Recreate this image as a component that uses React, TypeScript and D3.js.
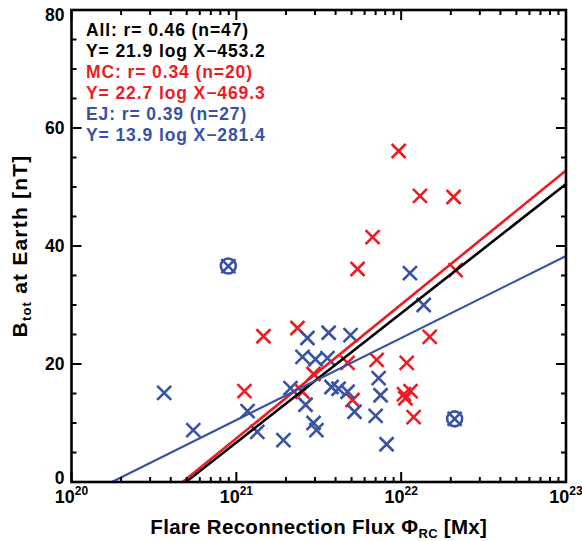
import {useRef, useEffect} from 'react'
import * as d3 from 'd3'

// MC events (red)
const mcFlux = [9.66e21, 1.30e22, 2.08e22, 6.71e21, 5.44e21, 2.14e22, 1.49e22, 1.46e21, 1.12e21, 2.35e21,
    4.73e21, 7.10e21, 1.08e22, 2.94e21, 1.04e22, 1.14e22, 1.06e22, 5.07e21, 1.19e22, 2.52e21]
const mcB = [56.1, 48.5, 48.3, 41.5, 36.1, 35.9, 24.6, 24.7, 15.4, 26.1,
    20.2, 20.7, 20.2, 18.3, 14.9, 15.4, 14.2, 13.9, 11.0, 15.3]

// EJ events (blue)
const ejFlux = [8.94e20, 2.11e22, 1.13e22, 1.37e22, 3.65e20, 5.48e20, 1.17e21, 1.34e21, 1.93e21, 2.94e21,
    3.06e21, 2.63e21, 2.13e21, 3.78e21, 4.17e21, 4.73e21, 5.21e21, 7.00e21, 7.50e21, 7.30e21,
    8.16e21, 2.70e21, 3.63e21, 4.93e21, 2.52e21, 3.02e21, 3.57e21]
const ejB = [36.6, 10.7, 35.4, 30.0, 15.1, 8.8, 12.0, 8.5, 7.1, 10.0,
    8.8, 13.1, 15.9, 16.1, 15.8, 15.3, 11.9, 11.2, 14.7, 17.6,
    6.4, 24.4, 25.3, 24.9, 21.2, 20.8, 21.0]
const ejCircled = [true, true]

// fits: Y = slope * log X + intercept
const fitNames = ["All", "MC", "EJ"]
const fitR = [0.46, 0.34, 0.39]
const fitN = [47, 20, 27]
const fitSlope = [21.9, 22.7, 13.9]
const fitIntercept = [-453.2, -469.3, -281.4]
const fitColors = ["#000000", "#ec1c24", "#3953a4"]

const yTicks = [0, 20, 40, 60, 80]
const xDecades = [20, 21, 22, 23]

export default function App() {
    const ref = useRef<SVGSVGElement>(null)

    useEffect(() => {
        const width = 582
        const height = 541
        const margin = {left: 71.5, right: 16, top: 10, bottom: 59}
        const svg = d3.select(ref.current)
        svg.selectAll("*").remove()

        const x = d3.scaleLog().domain([1e20, 1e23]).range([margin.left, width - margin.right])
        const y = d3.scaleLinear().domain([0, 80]).range([height - margin.bottom, margin.top])
        const font = "'Liberation Sans', Arial, Helvetica, sans-serif"
        const [x0, x1] = x.range()
        const [y0, y1] = y.range()

        // markers
        const cross = (g, cx, cy, color) => {
            const s = 7
            g.append("path")
                .attr("d", `M${cx - s},${cy - s}L${cx + s},${cy + s}M${cx - s},${cy + s}L${cx + s},${cy - s}`)
                .attr("stroke", color)
                .attr("stroke-width", 2.6)
                .attr("fill", "none")
        }
        const pts = svg.append("g")
        mcFlux.forEach((f, i) => cross(pts, x(f), y(mcB[i]), fitColors[1]))
        ejFlux.forEach((f, i) => {
            cross(pts, x(f), y(ejB[i]), fitColors[2])
            if (ejCircled[i]) {
                pts.append("circle")
                    .attr("cx", x(f)).attr("cy", y(ejB[i])).attr("r", 7.5)
                    .attr("fill", "none")
                    .attr("stroke", fitColors[2])
                    .attr("stroke-width", 2.6)
            }
        })

        // regression lines, from Y=0 to the right edge
        fitSlope.forEach((a, i) => {
            const b = fitIntercept[i]
            const lx0 = Math.pow(10, -b / a)
            const lx1 = 1e23
            svg.append("line")
                .attr("x1", x(lx0)).attr("y1", y(a * Math.log10(lx0) + b))
                .attr("x2", x(lx1)).attr("y2", y(a * Math.log10(lx1) + b))
                .attr("stroke", fitColors[i])
                .attr("stroke-width", i === 2 ? 2.2 : 2.6)
        })

        // frame
        svg.append("rect")
            .attr("x", x0).attr("y", y1)
            .attr("width", x1 - x0).attr("height", y0 - y1)
            .attr("fill", "none")
            .attr("stroke", "black")
            .attr("stroke-width", 2.6)

        const ticks = svg.append("g").attr("stroke", "black").attr("stroke-width", 2)
        // y ticks (left and right, inward)
        d3.range(0, 81, 5).forEach(v => {
            const len = v % 20 === 0 ? 10 : 5
            ticks.append("line").attr("x1", x0).attr("x2", x0 + len).attr("y1", y(v)).attr("y2", y(v))
            ticks.append("line").attr("x1", x1).attr("x2", x1 - len).attr("y1", y(v)).attr("y2", y(v))
        })
        // x ticks (bottom and top, inward)
        xDecades.forEach(d => {
            for (let m = 1; m <= 9; m++) {
                if (d === 23 && m > 1) break
                const v = m * Math.pow(10, d)
                const len = m === 1 ? 10 : 5
                ticks.append("line").attr("x1", x(v)).attr("x2", x(v)).attr("y1", y0).attr("y2", y0 - len)
                ticks.append("line").attr("x1", x(v)).attr("x2", x(v)).attr("y1", y1).attr("y2", y1 + len)
            }
        })

        // y tick labels (end labels pulled inside the frame like the original)
        svg.append("g").selectAll("text")
            .data(yTicks)
            .enter()
            .append("text")
            .attr("x", x0 - 7)
            .attr("y", d => y(d))
            .attr("dy", d => d === 0 ? 2 : d === 80 ? 11 : 6)
            .attr("text-anchor", "end")
            .style("font-family", font)
            .style("font-weight", "bold")
            .style("font-size", "17.5px")
            .text(d => d)

        // x tick labels
        const xl = svg.append("g").selectAll("text")
            .data(xDecades)
            .enter()
            .append("text")
            .attr("x", d => x(Math.pow(10, d)))
            .attr("y", 503)
            .attr("text-anchor", "middle")
            .style("font-family", font)
            .style("font-weight", "bold")
            .style("font-size", "18px")
        xl.append("tspan").text("10")
        xl.append("tspan").attr("dy", -8).style("font-size", "12px").text(d => d)

        // axis titles
        const xt = svg.append("text")
            .attr("x", (x0 + x1) / 2)
            .attr("y", 534)
            .attr("text-anchor", "middle")
            .style("font-family", font)
            .style("font-weight", "bold")
            .style("font-size", "20.5px")
            .style("letter-spacing", "0.3px")
        xt.append("tspan").text("Flare Reconnection Flux \u03A6")
        xt.append("tspan").attr("dy", 4).style("font-size", "13px").text("RC")
        xt.append("tspan").attr("dy", -4).text(" [Mx]")

        const yt = svg.append("text")
            .attr("transform", `translate(27, ${(y0 + y1) / 2}) rotate(-90)`)
            .attr("text-anchor", "middle")
            .style("font-family", font)
            .style("font-weight", "bold")
            .style("font-size", "21px")
            .style("letter-spacing", "1.2px")
        yt.append("tspan").text("B")
        yt.append("tspan").attr("dy", 4).style("font-size", "13px").text("tot")
        yt.append("tspan").attr("dy", -4).text(" at Earth [nT]")

        // legend
        const leg = svg.append("g")
            .style("font-family", font)
            .style("font-weight", "bold")
            .style("font-size", "17.5px")
            .style("letter-spacing", "0.9px")
        fitNames.forEach((name, i) => {
            leg.append("text")
                .attr("x", 86).attr("y", 36 + i * 42)
                .attr("fill", fitColors[i])
                .text(`${name}: r= ${fitR[i].toFixed(2)} (n=${fitN[i]})`)
            leg.append("text")
                .attr("x", 86).attr("y", 57 + i * 42)
                .attr("fill", fitColors[i])
                .text(`Y= ${fitSlope[i].toFixed(1)} log X\u2212${Math.abs(fitIntercept[i]).toFixed(1)}`)
        })
    }, [])

    return (
        <svg ref={ref} width={582} height={541}
             style={{position: "absolute", left: 0, top: 0, background: "white"}}/>
    )
}
